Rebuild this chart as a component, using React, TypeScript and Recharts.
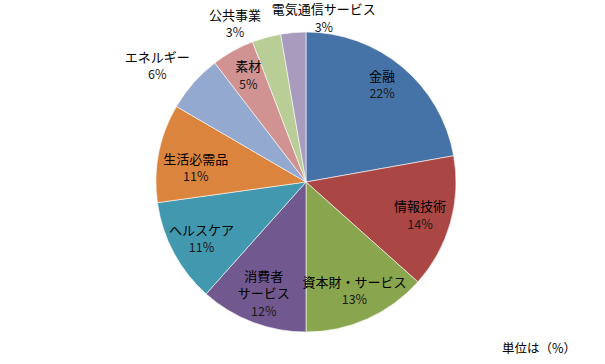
import React from 'react';
import { PieChart, Pie, Cell } from 'recharts';

const categories = ['金融', '情報技術', '資本財・サービス', '消費者サービス', 'ヘルスケア', '生活必需品', 'エネルギー', '素材', '公共事業', '電気通信サービス'];
const values = [22.2, 14.4, 13.4, 11.6, 11.2, 10.6, 6.2, 4.6, 3.1, 2.7];
const colors = ['#4572A7', '#AA4643', '#89A54E', '#71588F', '#4198AF', '#DB843D', '#93A9CF', '#D19392', '#B9CD96', '#A99BBD'];

const data = categories.map((name, i) => ({ name, value: values[i] }));

const lineBreaks: Record<string, string[]> = { '消費者サービス': ['消費者', 'サービス'] };
const placement: Record<string, { r: number; dx: number; dy: number }> = {
  '金融': { r: 0.79, dx: 0, dy: -7 },
  '生活必需品': { r: 0.79, dx: 6, dy: 8 },
  '素材': { r: 0.79, dx: 0, dy: -4 },
  'エネルギー': { r: 1.26, dx: -7, dy: 8 },
  '公共事業': { r: 1.16, dx: -25, dy: 9 },
  '電気通信サービス': { r: 1.113, dx: 32, dy: 2 },
};

const RAD = Math.PI / 180;
const FONT = '"Noto Sans CJK JP", "Noto Sans", sans-serif';

const renderLabel = (props: any) => {
  const { cx, cy, midAngle, outerRadius, name, percent } = props;
  const p = placement[name] || { r: 0.79, dx: 0, dy: 0 };
  const r = outerRadius * p.r;
  const x = cx + r * Math.cos(-midAngle * RAD) + p.dx;
  const y = cy + r * Math.sin(-midAngle * RAD) + p.dy;
  const lines = [...(lineBreaks[name] || [name]), `${Math.round(percent * 100)}%`];
  const gap = 17.5;
  const start = y - ((lines.length - 1) * gap) / 2;
  return (
    <g>
      {lines.map((t, i) => (
        <text key={i} x={x} y={start + i * gap} textAnchor="middle" dominantBaseline="central"
          fontFamily={FONT} fontSize={i === lines.length - 1 ? 12.5 : 13} fill={i === lines.length - 1 ? '#1a1a1a' : '#000'}>
          {t}
        </text>
      ))}
    </g>
  );
};

export default function App() {
  return (
    <div style={{ position: 'absolute', left: 0, top: 0, width: 605, height: 364, background: '#fff' }}>
      <PieChart width={605} height={364} margin={{ top: 0, right: 0, bottom: 0, left: 0 }}>
        <Pie data={data} dataKey="value" nameKey="name" cx={306} cy={182} outerRadius={150}
          startAngle={90} endAngle={-270} stroke="#ffffff" strokeWidth={0.6}
          isAnimationActive={false} labelLine={false} label={renderLabel}>
          {data.map((d, i) => <Cell key={d.name} fill={colors[i]} />)}
        </Pie>
      </PieChart>
      <div style={{ position: 'absolute', left: 502, top: 338, fontFamily: FONT, fontSize: 12.5, color: '#000', whiteSpace: 'nowrap' }}>
        単位は（%）
      </div>
    </div>
  );
}
